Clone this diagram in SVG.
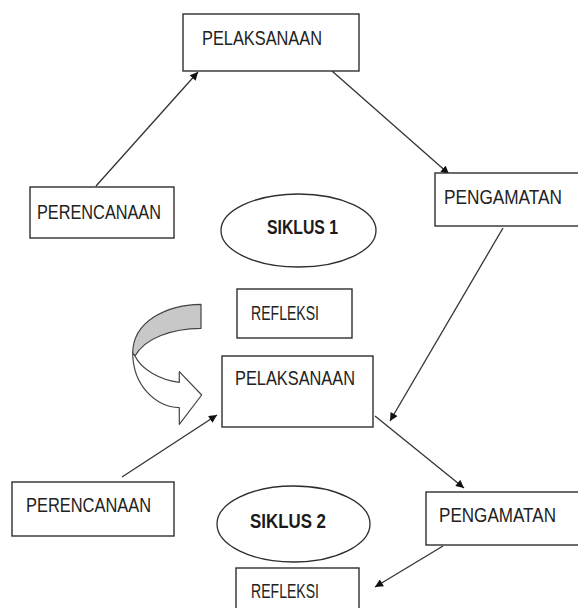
<svg xmlns="http://www.w3.org/2000/svg" width="578" height="608" viewBox="0 0 578 608">
<defs>
<style>
.box{fill:#fff;stroke:#2e2e2e;stroke-width:1.4}
.ell{fill:#fff;stroke:#2e2e2e;stroke-width:1.3}
.t{font-family:"Liberation Sans",Arial,sans-serif;font-size:20px;fill:#222}
.b{font-family:"Liberation Sans",Arial,sans-serif;font-size:20px;font-weight:bold;fill:#1a1a1a}
.ln{stroke:#333;stroke-width:1.3;fill:none;marker-end:url(#ah)}
</style>
<marker id="ah" viewBox="0 0 10 10" refX="10" refY="5" markerWidth="9" markerHeight="8" markerUnits="userSpaceOnUse" orient="auto">
<path d="M0,0 L10,5 L0,10 Z" fill="#111"/>
</marker>
</defs>
<rect width="578" height="608" fill="#fff"/>
<g id="connectors">
<line class="ln" x1="96" y1="186" x2="198" y2="72"/>
<line class="ln" x1="332" y1="71" x2="449" y2="174"/>
<line class="ln" x1="503" y1="228" x2="390" y2="421"/>
<line class="ln" x1="122" y1="477" x2="217" y2="415"/>
<line class="ln" x1="375" y1="416" x2="464" y2="488"/>
<line class="ln" x1="443" y1="546" x2="375" y2="587"/>
</g>
<g id="curved-arrow" stroke="#444" stroke-width="1.2" stroke-linejoin="round">
<path d="M201,304.3 C165,305 133,322 132.7,353 L135,356 C145,338 172,328.5 201,328.3 Z" fill="#c8c8c8"/>
<path d="M132.7,353 C133,386 156,407 179.3,407.7 L179.3,424.3 L201.7,395 L179.3,371.7 L179.3,382.3 C160,380 141,369 135,356 Z" fill="#fff"/>
</g>
<g id="pelaksanaan1">
<rect class="box" x="183" y="14" width="176" height="57"/>
<text class="t" x="202" y="45" textLength="120" lengthAdjust="spacingAndGlyphs">PELAKSANAAN</text>
</g>
<g id="perencanaan1">
<rect class="box" x="30" y="187" width="144" height="51"/>
<text class="t" x="37" y="219" textLength="124" lengthAdjust="spacingAndGlyphs">PERENCANAAN</text>
</g>
<g id="pengamatan1">
<rect class="box" x="435" y="173" width="150" height="53"/>
<text class="t" x="444" y="204" textLength="118" lengthAdjust="spacingAndGlyphs">PENGAMATAN</text>
</g>
<g id="siklus1">
<ellipse class="ell" cx="298.5" cy="230.5" rx="77.5" ry="36.5"/>
<text class="b" x="267" y="234" textLength="71" lengthAdjust="spacingAndGlyphs">SIKLUS 1</text>
</g>
<g id="refleksi1">
<rect class="box" x="237" y="289" width="115" height="49"/>
<text class="t" x="251" y="320" textLength="68" lengthAdjust="spacingAndGlyphs">REFLEKSI</text>
</g>
<g id="pelaksanaan2">
<rect class="box" x="222" y="356" width="151" height="71"/>
<text class="t" x="235" y="385" textLength="120" lengthAdjust="spacingAndGlyphs">PELAKSANAAN</text>
</g>
<g id="perencanaan2">
<rect class="box" x="12" y="482" width="162" height="54"/>
<text class="t" x="26" y="512" textLength="125" lengthAdjust="spacingAndGlyphs">PERENCANAAN</text>
</g>
<g id="siklus2">
<ellipse class="ell" cx="293.5" cy="524" rx="76.5" ry="38"/>
<text class="b" x="250" y="528" textLength="76" lengthAdjust="spacingAndGlyphs">SIKLUS 2</text>
</g>
<g id="pengamatan2">
<rect class="box" x="426" y="492" width="160" height="53"/>
<text class="t" x="439" y="522" textLength="117" lengthAdjust="spacingAndGlyphs">PENGAMATAN</text>
</g>
<g id="refleksi2">
<rect class="box" x="236" y="568" width="123" height="48"/>
<text class="t" x="251" y="598" textLength="68" lengthAdjust="spacingAndGlyphs">REFLEKSI</text>
</g>
</svg>
